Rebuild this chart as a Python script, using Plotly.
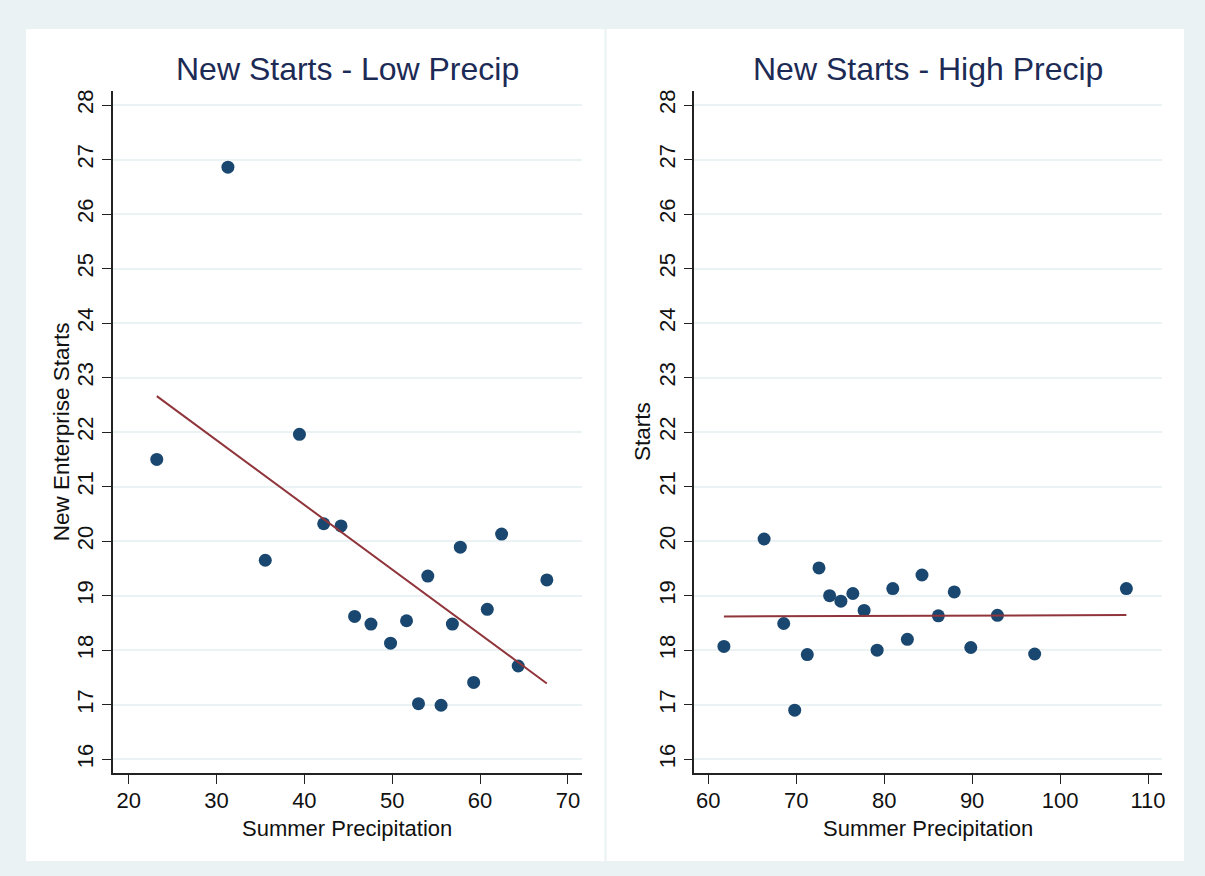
import plotly.graph_objects as go

# ---- Data ----
low_precip = [23.2, 31.3, 35.55, 39.44, 42.2, 44.17, 45.72, 47.58, 49.81, 51.63,
              52.99, 54.05, 55.56, 56.85, 57.75, 59.27, 60.82, 62.45, 64.34, 67.6]
low_starts = [21.50, 26.86, 19.65, 21.96, 20.32, 20.28, 18.62, 18.48, 18.13, 18.54,
              17.02, 19.36, 16.99, 18.48, 19.89, 17.41, 18.75, 20.13, 17.71, 19.29]
low_fit_x = [23.2, 67.6]
low_fit_y = [22.66, 17.39]

high_precip = [61.78, 66.35, 68.58, 69.83, 71.26, 72.59, 73.80, 75.08, 76.44, 77.72,
               79.20, 80.98, 82.64, 84.30, 86.16, 87.97, 89.85, 92.88, 97.11, 107.54]
high_starts = [18.07, 20.04, 18.49, 16.90, 17.92, 19.51, 19.00, 18.90, 19.04, 18.73,
               18.00, 19.13, 18.20, 19.38, 18.63, 19.07, 18.05, 18.64, 17.93, 19.13]
high_fit_x = [61.78, 107.54]
high_fit_y = [18.62, 18.645]

titles = ["New Starts - Low Precip", "New Starts - High Precip"]
x_title = "Summer Precipitation"
y_titles = ["New Enterprise Starts", "Starts"]
y_ticks = list(range(16, 29))
low_x_ticks = [20, 30, 40, 50, 60, 70]
high_x_ticks = [60, 70, 80, 90, 100, 110]

# ---- Style ----
W, H = 1205, 876
BG = "#EAF2F3"
MARKER = "#1A476F"
FIT = "#90353B"
TITLE_C = "#1C2B55"
TEXT_C = "#111111"
FONT = "Liberation Sans, Arial, sans-serif"

def px_x(p):
    return p / W

def px_y(p):
    return 1 - p / H

y_dom = [px_y(773.3), px_y(90)]
left_dom = [px_x(113.3), px_x(583)]
right_dom = [px_x(696), px_x(1165)]

fig = go.Figure()

fig.add_trace(go.Scatter(x=low_precip, y=low_starts, mode="markers",
                         marker=dict(color=MARKER, size=13, line=dict(width=0)),
                         xaxis="x", yaxis="y", showlegend=False))
fig.add_trace(go.Scatter(x=low_fit_x, y=low_fit_y, mode="lines",
                         line=dict(color=FIT, width=2),
                         xaxis="x", yaxis="y", showlegend=False))
fig.add_trace(go.Scatter(x=high_precip, y=high_starts, mode="markers",
                         marker=dict(color=MARKER, size=13, line=dict(width=0)),
                         xaxis="x2", yaxis="y2", showlegend=False))
fig.add_trace(go.Scatter(x=high_fit_x, y=high_fit_y, mode="lines",
                         line=dict(color=FIT, width=2),
                         xaxis="x2", yaxis="y2", showlegend=False))

axis_common = dict(showline=True, linecolor="#222222", linewidth=1.5,
                   ticks="outside", ticklen=9, tickwidth=1.2, tickcolor="#222222",
                   zeroline=False, tickfont=dict(size=22, color=TEXT_C, family=FONT))

yaxis_common = dict(axis_common, range=[15.74, 28.26], tickvals=y_ticks,
                    showgrid=True, gridcolor=BG, gridwidth=2, tickangle=-90,
                    domain=y_dom)
xaxis_common = dict(axis_common, showgrid=False, ticklabelstandoff=-3)

def text_ann(text, x, y, size, color, angle=0):
    return dict(text=text, xref="paper", yref="paper", x=x, y=y,
                xanchor="center", yanchor="middle", showarrow=False,
                textangle=angle, font=dict(size=size, color=color, family=FONT))

fig.update_layout(
    width=W, height=H,
    margin=dict(l=0, r=0, t=0, b=0),
    paper_bgcolor=BG, plot_bgcolor="rgba(0,0,0,0)",
    font=dict(family=FONT),
    xaxis=dict(xaxis_common, domain=left_dom, range=[18.22, 71.55],
               tickvals=low_x_ticks, anchor="y"),
    yaxis=dict(yaxis_common, anchor="x"),
    xaxis2=dict(xaxis_common, domain=right_dom, range=[58.41, 111.6],
                tickvals=high_x_ticks, anchor="y2"),
    yaxis2=dict(yaxis_common, anchor="x2"),
    shapes=[
        dict(type="rect", xref="paper", yref="paper", layer="below",
             x0=px_x(26), x1=px_x(606), y0=px_y(861), y1=px_y(28),
             fillcolor="white", line=dict(width=0)),
        dict(type="rect", xref="paper", yref="paper", layer="below",
             x0=px_x(608), x1=px_x(1187), y0=px_y(861), y1=px_y(28),
             fillcolor="white", line=dict(width=0)),
    ],
    annotations=[
        text_ann(titles[0], (left_dom[0] + left_dom[1]) / 2, px_y(68), 32, TITLE_C),
        text_ann(titles[1], (right_dom[0] + right_dom[1]) / 2, px_y(68), 32, TITLE_C),
        text_ann(x_title, (left_dom[0] + left_dom[1]) / 2, px_y(828), 22, TEXT_C),
        text_ann(x_title, (right_dom[0] + right_dom[1]) / 2, px_y(828), 22, TEXT_C),
        text_ann(y_titles[0], px_x(62), px_y(431), 22.5, TEXT_C, -90),
        text_ann(y_titles[1], px_x(644), px_y(431), 22.5, TEXT_C, -90),
    ],
)

fig.write_html("out.html", config={"displayModeBar": False},
               post_script="document.body.style.margin='0';document.body.style.overflow='hidden';")
